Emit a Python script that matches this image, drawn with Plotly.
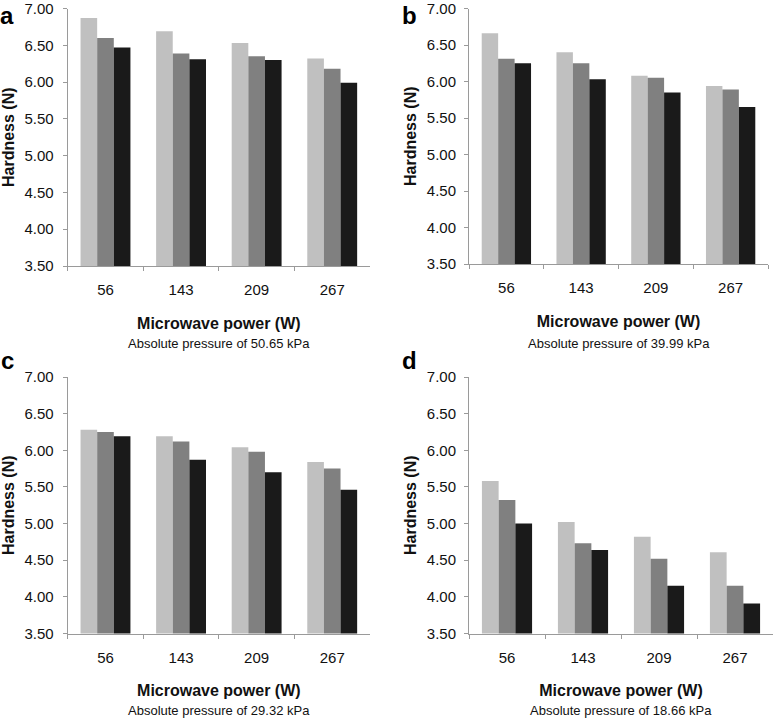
import plotly.graph_objects as go

categories = ["56", "143", "209", "267"]

# Hardness (N) for each panel; three series per panel (light, mid, dark grey)
a_light = [6.87, 6.69, 6.53, 6.32]
a_mid = [6.60, 6.39, 6.35, 6.18]
a_dark = [6.47, 6.31, 6.30, 5.99]

b_light = [6.66, 6.40, 6.08, 5.94]
b_mid = [6.31, 6.25, 6.05, 5.89]
b_dark = [6.25, 6.03, 5.85, 5.65]

c_light = [6.28, 6.19, 6.04, 5.84]
c_mid = [6.25, 6.12, 5.98, 5.75]
c_dark = [6.19, 5.87, 5.70, 5.46]

d_light = [5.58, 5.02, 4.82, 4.61]
d_mid = [5.32, 4.73, 4.52, 4.15]
d_dark = [5.00, 4.64, 4.15, 3.91]

panel_letters = ["a", "b", "c", "d"]
pressures = ["50.65", "39.99", "29.32", "18.66"]

series_colors = ["#c0c0c0", "#808080", "#1a1a1a"]

panels = [
    (a_light, a_mid, a_dark),
    (b_light, b_mid, b_dark),
    (c_light, c_mid, c_dark),
    (d_light, d_mid, d_dark),
]

W, H = 777, 720
# plot areas in pixels: (left, right, top, bottom)
boxes = [
    (67.7, 370, 8.5, 266),
    (469, 768, 8.5, 264),
    (67.7, 370, 377, 633.5),
    (469, 773, 377, 633.5),
]
ylabel_standoff = [6, 5, 6, 5]
ytitle_standoff = [5, 6, 5, 6]

FONT = "Liberation Sans, Arial, sans-serif"
fig = go.Figure()
layout = {}
annotations = []

for i, (series, box) in enumerate(zip(panels, boxes)):
    idx = "" if i == 0 else str(i + 1)
    xa = "x" + idx
    ya = "y" + idx
    for s, col in zip(series, series_colors):
        fig.add_trace(go.Bar(x=categories, y=s, marker=dict(color=col, line=dict(width=0)),
                             xaxis=xa, yaxis=ya, showlegend=False, hoverinfo="skip"))
    l, r, t, b = box
    layout["xaxis" + idx] = dict(
        domain=[l / W, r / W], anchor=ya, type="category", automargin=False,
        showline=True, linecolor="#9a9a9a", linewidth=1,
        ticks="outside", tickson="boundaries", ticklen=4, tickcolor="#9a9a9a",
        ticklabelstandoff=10, ticklabeloverflow="allow",
        showgrid=False, zeroline=False,
        tickfont=dict(family=FONT, size=15, color="#111"),
        title=dict(text="<b>Microwave power (W)</b>", standoff=20,
                   font=dict(family=FONT, size=16, color="#111")),
    )
    layout["yaxis" + idx] = dict(
        domain=[1 - b / H, 1 - t / H], anchor=xa, range=[3.5, 7.0], automargin=False,
        dtick=0.5, tick0=3.5, tickformat=".2f",
        showline=True, linecolor="#9a9a9a", linewidth=1,
        ticks="outside", ticklen=4, tickcolor="#9a9a9a",
        ticklabelstandoff=ylabel_standoff[i], ticklabeloverflow="allow",
        showgrid=False, zeroline=False,
        tickfont=dict(family=FONT, size=15, color="#111"),
        title=dict(text="<b>Hardness (N)</b>", standoff=ytitle_standoff[i],
                   font=dict(family=FONT, size=16, color="#111")),
    )
    # panel letter
    lx = 7 if i in (0, 2) else 409
    ly = 15 if i < 2 else 360
    annotations.append(dict(text="<b>" + panel_letters[i] + "</b>", xref="paper", yref="paper",
                            x=lx / W, y=1 - ly / H, xanchor="center", yanchor="middle",
                            showarrow=False, font=dict(family=FONT, size=24, color="#000")))
    # subtitle
    sy = 343 if i < 2 else 710
    annotations.append(dict(text="Absolute pressure of " + pressures[i] + " kPa",
                            xref="paper", yref="paper",
                            x=((l + r) / 2) / W, y=1 - sy / H, xanchor="center", yanchor="middle",
                            showarrow=False, font=dict(family=FONT, size=13, color="#111")))

fig.update_layout(
    width=W, height=H,
    margin=dict(l=0, r=0, t=0, b=0, autoexpand=False),
    paper_bgcolor="white", plot_bgcolor="white",
    barmode="group", bargap=0.34, bargroupgap=0,
    annotations=annotations,
    **layout,
)

fig.write_html("out.html", config={"displayModeBar": False},
               post_script="document.body.style.margin='0';")
